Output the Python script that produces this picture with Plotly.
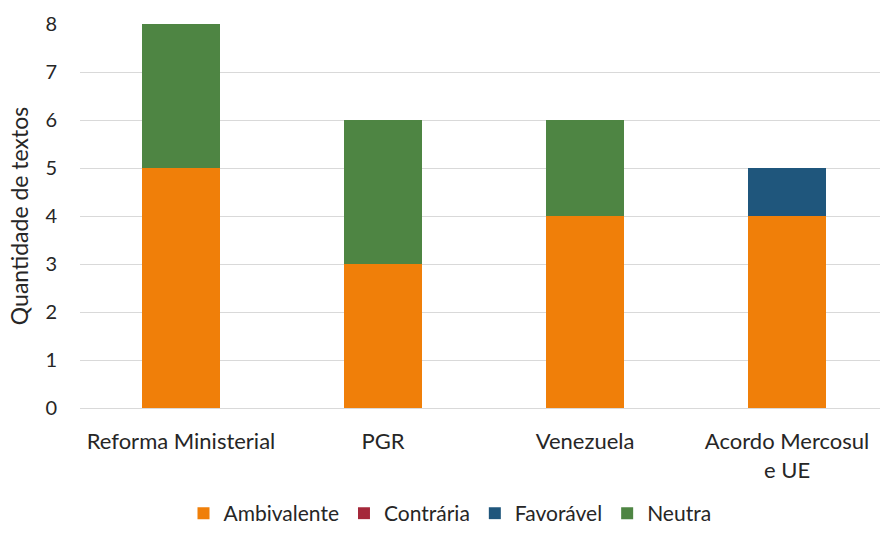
import plotly.graph_objects as go

categories = ["Reforma Ministerial", "PGR", "Venezuela", "Acordo Mercosul<br>e UE"]
ambivalente = [5, 3, 4, 4]
contraria = [0, 0, 0, 0]
favoravel = [0, 0, 0, 1]
neutra = [3, 3, 2, 0]

series = [
    ("Ambivalente", ambivalente, "#F07F09"),
    ("Contrária", contraria, "#A5283A"),
    ("Favorável", favoravel, "#1F567C"),
    ("Neutra", neutra, "#4E8543"),
]

fig = go.Figure()
for name, vals, color in series:
    fig.add_trace(go.Bar(x=categories, y=vals, name=name, marker_color=color,
                         marker_line_width=0))

font = "Lato, sans-serif"
fig.update_layout(
    barmode="stack",
    bargap=0.61,
    width=880, height=534,
    margin=dict(l=80, r=0, t=24, b=126, autoexpand=False),
    plot_bgcolor="white", paper_bgcolor="white",
    font=dict(family=font, size=22, color="#262626"),
    xaxis=dict(showgrid=False, showline=True, linecolor="#D9D9D9", linewidth=1,
               ticks="", tickfont=dict(size=22), range=[-0.5, 3.46],
               ticklabelstandoff=14, automargin=False),
    yaxis=dict(range=[0, 8], dtick=1, showgrid=True, gridcolor="#D9D9D9",
               gridwidth=1, zeroline=False, ticks="", tickfont=dict(size=20),
               ticklabelstandoff=22, automargin=False,
               title=dict(text="Quantidade de textos", font=dict(size=23), standoff=10)),
    legend=dict(orientation="h", x=0.4625, xanchor="center", y=0.0, yanchor="bottom",
                yref="container",
                font=dict(size=21), traceorder="normal", itemwidth=30),
    showlegend=True,
)
fig.write_html("out.html")
